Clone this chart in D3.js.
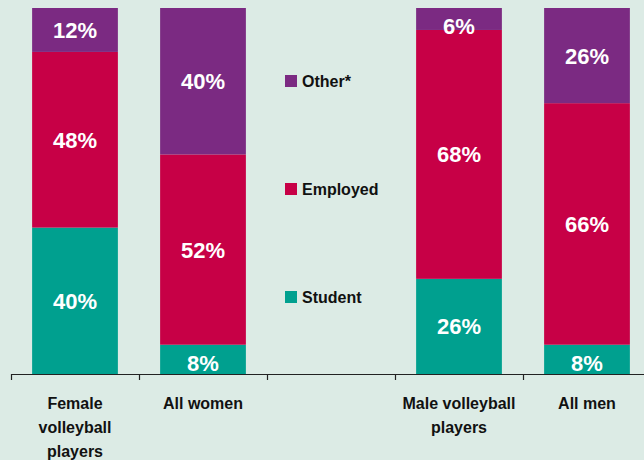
<!DOCTYPE html>
<html>
<head>
<meta charset="utf-8">
<script src="https://cdn.jsdelivr.net/npm/d3@7"></script>
<style>
  body { margin: 0; background: #dcebe5; }
  svg { display: block; font-family: "Liberation Sans", Arial, sans-serif; font-weight: bold; }
</style>
</head>
<body>
<div id="chart"></div>
<script>
// Data
var categories = ['Female volleyball players', 'All women', '', 'Male volleyball players', 'All men'];
var categoryLines = [['Female', 'volleyball', 'players'], ['All women'], [], ['Male volleyball', 'players'], ['All men']];
var seriesNames = ['Student', 'Employed', 'Other*'];
var student = [40, 8, null, 26, 8];
var employed = [48, 52, null, 68, 66];
var other = [12, 40, null, 6, 26];
var colors = ['#00a08f', '#c70046', '#7b2a82'];

var width = 644, height = 460;

var svg = d3.select('#chart').append('svg')
  .attr('width', width)
  .attr('height', height);

svg.append('rect')
  .attr('width', width)
  .attr('height', height)
  .attr('fill', '#dcebe5');

// Scales
var x = d3.scaleBand()
  .domain(categories.map(function(d, i) { return i; }))
  .range([11, 651])
  .paddingInner(0.33)
  .paddingOuter(0.165);

var slot = d3.scaleLinear().domain([0, 5]).range([11, 651]);

var y = d3.scaleLinear().domain([0, 100]).range([374, 8]);

// Stack the data
var rows = categories.map(function(c, i) {
  return {i: i, Student: student[i] || 0, Employed: employed[i] || 0, 'Other*': other[i] || 0};
}).filter(function(d, i) { return student[i] !== null; });

var stack = d3.stack().keys(seriesNames)(rows);

var layers = svg.selectAll('.layer')
  .data(stack)
  .enter().append('g')
    .attr('class', 'layer')
    .attr('fill', function(d, i) { return colors[i]; });

layers.selectAll('rect')
  .data(function(d) { return d; })
  .enter().append('rect')
    .attr('x', function(d) { return x(d.data.i); })
    .attr('y', function(d) { return y(d[1]); })
    .attr('width', x.bandwidth())
    .attr('height', function(d) { return y(d[0]) - y(d[1]); });

// Value labels
layers.selectAll('text')
  .data(function(d) { return d; })
  .enter().append('text')
    .attr('x', function(d) { return x(d.data.i) + x.bandwidth() / 2; })
    .attr('y', function(d) {
      var mid = (y(d[0]) + y(d[1])) / 2;
      return Math.max(mid, y(d[1]) + 18) + 8;
    })
    .attr('text-anchor', 'middle')
    .attr('fill', '#fff')
    .style('font-size', '22px')
    .text(function(d) { return (d[1] - d[0]) + '%'; });

// Axis
var xAxis = d3.axisBottom(slot)
  .tickValues([0, 1, 2, 3, 4])
  .tickSize(6)
  .tickSizeOuter(0)
  .tickFormat('');

var axis = svg.append('g')
  .attr('transform', 'translate(0,374)')
  .call(xAxis);
axis.selectAll('path, line').attr('stroke', '#222').attr('stroke-width', 1.2);

// Category labels
categoryLines.forEach(function(lines, i) {
  var t = svg.append('text')
    .attr('text-anchor', 'middle')
    .attr('fill', '#111')
    .style('font-size', '16px');
  lines.forEach(function(line, j) {
    t.append('tspan')
      .attr('x', x(i) + x.bandwidth() / 2)
      .attr('y', 409 + j * 24)
      .text(line);
  });
});

// Legend
var legendY = [291, 183, 75];
seriesNames.forEach(function(name, i) {
  svg.append('rect')
    .attr('x', 285)
    .attr('y', legendY[i])
    .attr('width', 12)
    .attr('height', 12)
    .attr('fill', colors[i]);
  svg.append('text')
    .attr('x', 302)
    .attr('y', legendY[i] + 12)
    .attr('fill', '#111')
    .style('font-size', '16px')
    .text(name);
});
</script>
</body>
</html>
